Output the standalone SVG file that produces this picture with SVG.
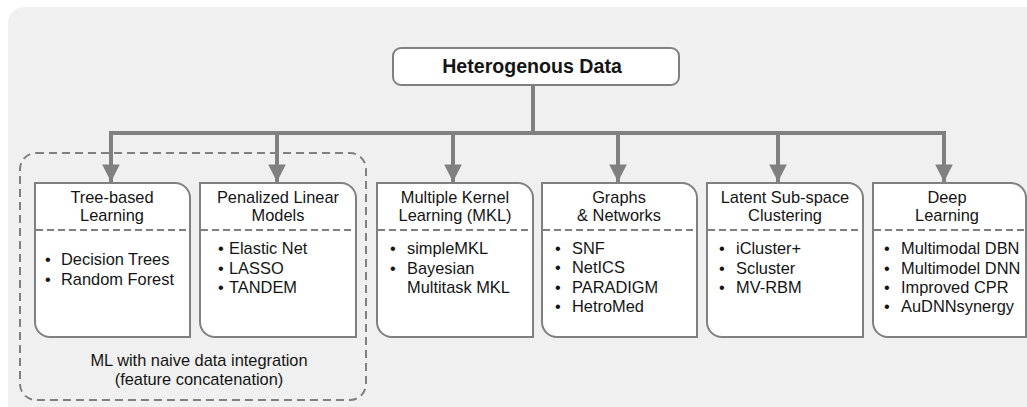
<svg xmlns="http://www.w3.org/2000/svg" width="1027" height="407" viewBox="0 0 1027 407">
<defs>
<style>
.box{fill:#fff;stroke:#808080;stroke-width:2}
.sep{stroke:#808080;stroke-width:2;stroke-dasharray:7 4;fill:none}
.t{font-family:"Liberation Sans",Arial,sans-serif;font-size:16.4px;fill:#151515}
.c{text-anchor:middle}
.conn{stroke:#808080;stroke-width:4;fill:none}
</style>
<marker id="ah" viewBox="0 0 10 10" refX="10" refY="5" markerWidth="4.4" markerHeight="4.6" orient="auto" markerUnits="strokeWidth">
<path d="M0,0 L10,5 L0,10 Z" fill="#808080"/>
</marker>
</defs>
<rect x="8" y="7" width="1040" height="420" rx="16" fill="#f0f0f0"/>
<rect x="20" y="153" width="346" height="247" rx="16" fill="none" stroke="#808080" stroke-width="2" stroke-dasharray="8 5"/>
<g id="connectors">
<path class="conn" d="M533,85 V133"/>
<path class="conn" d="M109,133 H946"/>
<path class="conn" d="M111,133 V182" marker-end="url(#ah)"/>
<path class="conn" d="M277,133 V182" marker-end="url(#ah)"/>
<path class="conn" d="M453,133 V182" marker-end="url(#ah)"/>
<path class="conn" d="M618,133 V182" marker-end="url(#ah)"/>
<path class="conn" d="M778,133 V182" marker-end="url(#ah)"/>
<path class="conn" d="M944,133 V182" marker-end="url(#ah)"/>
</g>
<g id="root">
<rect x="393" y="48" width="286" height="37" rx="8" class="box"/>
<text x="532" y="73" class="t c" style="font-size:19.6px;font-weight:bold">Heterogenous Data</text>
</g>
<g id="tree">
<path class="box" d="M35,183 H175 A15,15 0 0 1 190,198 V337 H50 A15,15 0 0 1 35,322 Z"/>
<line class="sep" x1="36" y1="230" x2="189" y2="230"/>
<text class="t c" x="112" y="203">Tree-based</text>
<text class="t c" x="112" y="221">Learning</text>
<text class="t" x="45" y="265">•</text><text class="t" x="61" y="265">Decision Trees</text>
<text class="t" x="45" y="285">•</text><text class="t" x="61" y="285">Random Forest</text>
</g>
<g id="penalized">
<path class="box" d="M200,183 H341 A15,15 0 0 1 356,198 V337 H215 A15,15 0 0 1 200,322 Z"/>
<line class="sep" x1="201" y1="230" x2="355" y2="230"/>
<text class="t c" x="278" y="203">Penalized Linear</text>
<text class="t c" x="278" y="221">Models</text>
<text class="t" x="218" y="254">•</text><text class="t" x="229" y="254">Elastic Net</text>
<text class="t" x="218" y="274">•</text><text class="t" x="229" y="274">LASSO</text>
<text class="t" x="218" y="293">•</text><text class="t" x="229" y="293">TANDEM</text>
</g>
<g id="mkl">
<path class="box" d="M377,183 H518 A15,15 0 0 1 533,198 V337 H392 A15,15 0 0 1 377,322 Z"/>
<line class="sep" x1="378" y1="230" x2="532" y2="230"/>
<text class="t c" x="455" y="203">Multiple Kernel</text>
<text class="t c" x="455" y="221">Learning (MKL)</text>
<text class="t" x="390" y="254">•</text><text class="t" x="407" y="254">simpleMKL</text>
<text class="t" x="390" y="274">•</text><text class="t" x="407" y="274">Bayesian</text>
<text class="t" x="407" y="293">Multitask MKL</text>
</g>
<g id="graphs">
<path class="box" d="M542,183 H682 A15,15 0 0 1 697,198 V337 H557 A15,15 0 0 1 542,322 Z"/>
<line class="sep" x1="543" y1="230" x2="696" y2="230"/>
<text class="t c" x="619" y="203">Graphs</text>
<text class="t c" x="619" y="221">&amp; Networks</text>
<text class="t" x="555" y="254">•</text><text class="t" x="572" y="254">SNF</text>
<text class="t" x="555" y="273">•</text><text class="t" x="572" y="273">NetICS</text>
<text class="t" x="555" y="293">•</text><text class="t" x="572" y="293">PARADIGM</text>
<text class="t" x="555" y="312">•</text><text class="t" x="572" y="312">HetroMed</text>
</g>
<g id="latent">
<path class="box" d="M707,183 H848 A15,15 0 0 1 863,198 V337 H722 A15,15 0 0 1 707,322 Z"/>
<line class="sep" x1="708" y1="230" x2="862" y2="230"/>
<text class="t c" x="785" y="203">Latent Sub-space</text>
<text class="t c" x="785" y="221">Clustering</text>
<text class="t" x="719" y="254">•</text><text class="t" x="736" y="254">iCluster+</text>
<text class="t" x="719" y="274">•</text><text class="t" x="736" y="274">Scluster</text>
<text class="t" x="719" y="293">•</text><text class="t" x="736" y="293">MV-RBM</text>
</g>
<g id="deep">
<path class="box" d="M873,183 H1011 A15,15 0 0 1 1026,198 V337 H888 A15,15 0 0 1 873,322 Z"/>
<line class="sep" x1="874" y1="230" x2="1025" y2="230"/>
<text class="t c" x="947" y="203">Deep</text>
<text class="t c" x="947" y="221">Learning</text>
<text class="t" x="884" y="254">•</text><text class="t" x="901" y="254">Multimodal DBN</text>
<text class="t" x="884" y="274">•</text><text class="t" x="901" y="274">Multimodel DNN</text>
<text class="t" x="884" y="293">•</text><text class="t" x="901" y="293">Improved CPR</text>
<text class="t" x="884" y="312">•</text><text class="t" x="901" y="312">AuDNNsynergy</text>
</g>
<g id="group-label">
<text class="t c" x="199" y="366">ML with naive data integration</text>
<text class="t c" x="199" y="385">(feature concatenation)</text>
</g>
</svg>
